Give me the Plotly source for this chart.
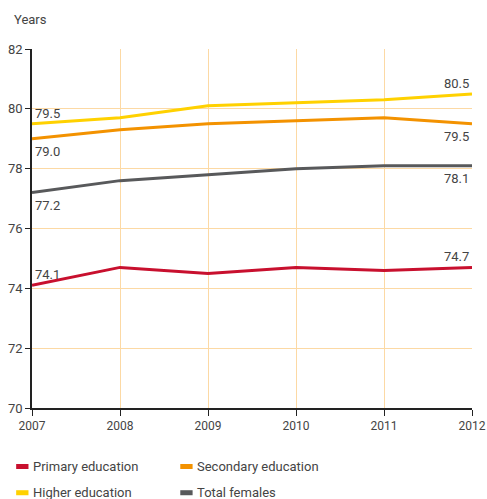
import plotly.graph_objects as go

years = [2007, 2008, 2009, 2010, 2011, 2012]
primary = [74.1, 74.7, 74.5, 74.7, 74.6, 74.7]
secondary = [79.0, 79.3, 79.5, 79.6, 79.7, 79.5]
higher = [79.5, 79.7, 80.1, 80.2, 80.3, 80.5]
total = [77.2, 77.6, 77.8, 78.0, 78.1, 78.1]

names = ["Primary education", "Secondary education", "Higher education", "Total females"]
colors = ["#c8102e", "#f39200", "#ffd100", "#58595b"]
series = [primary, secondary, higher, total]
# label placement: (start above?, end above?)
label_pos = [(True, True), (False, False), (True, True), (False, False)]

FONT = "Roboto"
TXT = "#444444"

fig = go.Figure()
for name, col, vals in zip(names, colors, series):
    fig.add_trace(go.Scatter(x=years, y=vals, mode="lines", name=name,
                             line=dict(color=col, width=3), showlegend=False))

annotations = []
for vals, (sa, ea) in zip(series, label_pos):
    annotations.append(dict(x=years[0], y=vals[0], text=f"{vals[0]:.1f}", showarrow=False,
                            xanchor="left", yanchor="bottom" if sa else "top",
                            xshift=1, yshift=1 if sa else -3,
                            font=dict(family=FONT, size=13, color=TXT)))
    annotations.append(dict(x=years[-1], y=vals[-1], text=f"{vals[-1]:.1f}", showarrow=False,
                            xanchor="right", yanchor="bottom" if ea else "top",
                            xshift=-1, yshift=1 if ea else -3,
                            font=dict(family=FONT, size=13, color=TXT)))

annotations.append(dict(xref="paper", yref="paper", x=-0.045, y=1.0, yshift=20,
                        text="Years", showarrow=False, xanchor="left", yanchor="bottom",
                        font=dict(family=FONT, size=13, color=TXT)))

# legend built from names/colors
shapes = []
leg_x = [-0.036, 0.337, -0.036, 0.337]
leg_y = [-0.163, -0.163, -0.236, -0.236]
for name, col, lx, ly in zip(names, colors, leg_x, leg_y):
    shapes.append(dict(type="rect", xref="paper", yref="paper",
                       x0=lx, x1=lx + 0.028, y0=ly - 0.007, y1=ly + 0.007,
                       fillcolor=col, line=dict(width=0)))
    annotations.append(dict(xref="paper", yref="paper", x=lx + 0.033, y=ly,
                            text=name, showarrow=False, xanchor="left", yanchor="middle",
                            font=dict(family=FONT, size=13, color=TXT)))

fig.update_layout(
    width=487, height=499,
    margin=dict(l=32, r=15, t=49, b=91, autoexpand=False),
    plot_bgcolor="white", paper_bgcolor="white",
    annotations=annotations, shapes=shapes,
    font=dict(family=FONT, size=13, color=TXT),
)
fig.update_xaxes(range=[2007, 2012], tickvals=years, ticktext=[str(y) for y in years],
                 showgrid=True, gridcolor="#fcd9a4", gridwidth=1,
                 showline=True, linecolor="#222222", linewidth=1.5,
                 ticks="outside", ticklen=6, tickcolor="#222222",
                 ticklabeloverflow="allow", automargin=False,
                 zeroline=False, tickfont=dict(family=FONT, size=12, color=TXT))
fig.update_yaxes(range=[70, 82], tickvals=[70, 72, 74, 76, 78, 80, 82],
                 showgrid=True, gridcolor="#fcd9a4", gridwidth=1,
                 showline=True, linecolor="#222222", linewidth=1.5,
                 ticks="outside", ticklen=5, tickcolor="#222222",
                 ticklabeloverflow="allow", automargin=False,
                 zeroline=False, tickfont=dict(family=FONT, size=13, color=TXT))

fig.write_html("out.html")
